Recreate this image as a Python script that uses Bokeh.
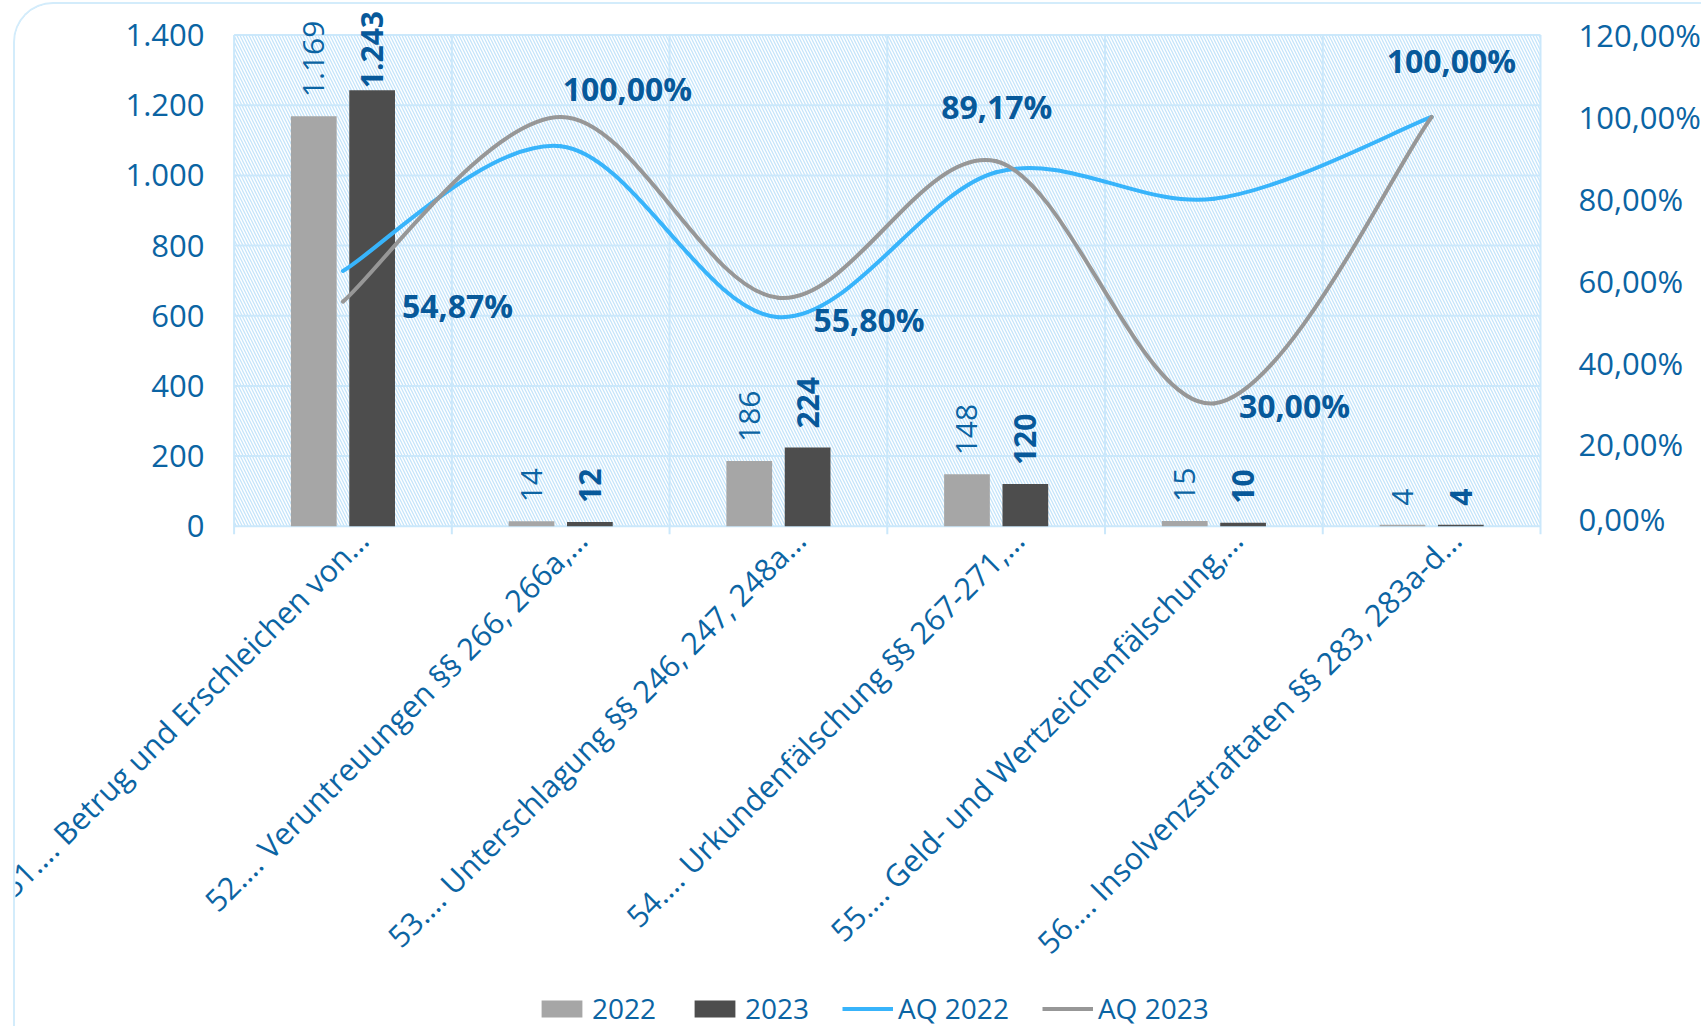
import numpy as np
from bokeh.plotting import figure
from bokeh.models import (Range1d, LinearAxis, FixedTicker, ColumnDataSource,
                          Legend, LegendItem, BoxAnnotation)
from bokeh.core.properties import value
from bokeh.embed import file_html
from bokeh.resources import INLINE

# ---------------- data ----------------
categories = [
    "51…. Betrug und Erschleichen von…",
    "52…. Veruntreuungen §§ 266, 266a,…",
    "53…. Unterschlagung §§ 246, 247, 248a…",
    "54…. Urkundenfälschung §§ 267-271,…",
    "55…. Geld- und Wertzeichenfälschung,…",
    "56…. Insolvenzstraftaten §§ 283, 283a-d…",
]
cases_2022 = [1169, 14, 186, 148, 15, 4]
cases_2023 = [1243, 12, 224, 120, 10, 4]
aq_2022 = [62.36, 92.86, 51.08, 86.49, 80.00, 100.00]
aq_2023 = [54.87, 100.00, 55.80, 89.17, 30.00, 100.00]

left_ticks = [0, 200, 400, 600, 800, 1000, 1200, 1400]
left_tick_labels = ["0", "200", "400", "600", "800", "1.000", "1.200", "1.400"]
right_ticks = [0, 20, 40, 60, 80, 100, 120]
right_tick_labels = ["0,00%", "20,00%", "40,00%", "60,00%", "80,00%", "100,00%", "120,00%"]
legend_labels = ["2022", "2023", "AQ 2022", "AQ 2023"]

# ---------------- style ----------------
FONT = "Open Sans"
TXT = "#0b64a3"
TXT_B = "#07599a"
GRID = "#cbe8fb"
HATCH = "#c4e4fa"
FRAME_BORDER = "#d3ecfb"
C2022 = "#a6a6a6"
C2023 = "#4d4d4d"
C_AQ22 = "#38b4fb"
C_AQ23 = "#979797"

bar_width = 0.21
bar_shift = 0.134
bar_gap_2022 = [19, 19, 19, 19, 19, 19]
bar_gap_2023 = [2, 19, 19, 19, 19, 19]
aq_label_dx = [59, 2, 35, -55, 25, -45]
aq_label_dy = [4, -28, 22, -55, 2, -56]
cat_label_dx = 19
cat_label_drop = 10
tick_len = 8

# layout (page pixels)
X0, Y0 = 15, 4                 # top-left of drawing area (inside the rounded border)
W = 1688
PA_L, PA_R, PA_T, PA_B = 233.6, 1545.0, 34.6, 525.7   # plot area
SPLIT = 541                     # page y where upper figure ends
H1 = SPLIT - Y0
H2 = 1028 - SPLIT
PAD = 3

n = len(categories)
centers = np.arange(n) + 0.5
ppx = (PA_R - PA_L) / n          # px per category
ppy = (PA_B - PA_T) / 1400.0     # px per count unit
pct_per_count = 120.0 / 1400.0

fl = int(round(PA_L - PAD - X0))
fr = int(round(PA_R + PAD - X0))
x_start1 = -((PA_L - X0) - fl) / ppx
x_end1 = x_start1 + (fr - fl) / ppx
y_end1 = (PA_B - Y0) / ppy
y_start1 = -(SPLIT - PA_B) / ppy


def fmt_int(v):
    return f"{v:,}".replace(",", ".")


def fmt_pct(v):
    return f"{v:.2f}".replace(".", ",") + "%"


# ================= upper figure: plot area + value axes =================
p = figure(width=W, height=H1, x_range=Range1d(x_start1, x_end1),
           y_range=Range1d(y_start1, y_end1),
           output_backend="svg", toolbar_location=None,
           min_border_left=fl, min_border_right=W - fr, min_border_top=0, min_border_bottom=0)
p.extra_y_ranges = {"pct": Range1d(y_start1 * pct_per_count, y_end1 * pct_per_count)}
p.outline_line_color = None
p.background_fill_color = "white"
p.border_fill_color = "white"
p.grid.visible = False
p.xaxis.visible = False
p.styles = {"margin-left": f"{X0 - 2}px", "margin-top": f"{Y0 - 2}px",
            "border-top": f"2px solid {FRAME_BORDER}",
            "border-left": f"2px solid {FRAME_BORDER}",
            "border-top-left-radius": "40px", "overflow": "hidden"}

# hatched plot area
p.add_layout(BoxAnnotation(left=0, right=n, bottom=0, top=1400, fill_alpha=0, line_alpha=0,
                           hatch_pattern="\\", hatch_color=HATCH, hatch_scale=6,
                           hatch_weight=1.3, level="underlay"))
# gridlines (horizontal at value ticks, vertical at category boundaries + axis ticks)
p.segment(x0=[0] * len(left_ticks), x1=[n] * len(left_ticks), y0=left_ticks, y1=left_ticks,
          line_color=GRID, line_width=2)
bounds = list(range(n + 1))
p.segment(x0=bounds, x1=bounds, y0=[-tick_len / ppy] * len(bounds), y1=[1400] * len(bounds),
          line_color=GRID, line_width=2)

# bars
src = ColumnDataSource(dict(
    x22=centers - bar_shift, x23=centers + bar_shift,
    c22=cases_2022, c23=cases_2023,
    t22=[fmt_int(v) for v in cases_2022], t23=[fmt_int(v) for v in cases_2023],
    g22=[-g for g in bar_gap_2022], g23=[-g for g in bar_gap_2023],
))
r22 = p.vbar(x="x22", top="c22", width=bar_width, fill_color=C2022, line_color=None, source=src)
r23 = p.vbar(x="x23", top="c23", width=bar_width, fill_color=C2023, line_color=None, source=src)

p.text(x="x22", y="c22", text="t22", angle=np.pi / 2, y_offset="g22",
       text_align="left", text_baseline="middle", text_font=value(FONT),
       text_font_size="30px", text_color=TXT, source=src)
p.text(x="x23", y="c23", text="t23", angle=np.pi / 2, y_offset="g23",
       text_align="left", text_baseline="middle", text_font=value(FONT),
       text_font_size="30px", text_font_style="bold", text_color=TXT_B, source=src)


# smoothed lines (Catmull-Rom through the data points -> cubic Bezier segments)
def bezier_source(xs, ys):
    xs = list(xs)
    ys = list(ys)
    m = len(xs)
    d = dict(x0=[], y0=[], x1=[], y1=[], cx0=[], cy0=[], cx1=[], cy1=[])
    for i in range(m - 1):
        xp, yp = (xs[i - 1], ys[i - 1]) if i > 0 else (xs[i], ys[i])
        xn, yn = (xs[i + 2], ys[i + 2]) if i + 2 < m else (xs[i + 1], ys[i + 1])
        d["x0"].append(xs[i]); d["y0"].append(ys[i])
        d["x1"].append(xs[i + 1]); d["y1"].append(ys[i + 1])
        d["cx0"].append(xs[i] + (xs[i + 1] - xp) / 6)
        d["cy0"].append(ys[i] + (ys[i + 1] - yp) / 6)
        d["cx1"].append(xs[i + 1] - (xn - xs[i]) / 6)
        d["cy1"].append(ys[i + 1] - (yn - ys[i]) / 6)
    return ColumnDataSource(d)


ra22 = p.bezier(x0="x0", y0="y0", x1="x1", y1="y1", cx0="cx0", cy0="cy0", cx1="cx1", cy1="cy1",
                source=bezier_source(centers, aq_2022), line_color=C_AQ22, line_width=4,
                line_cap="round", y_range_name="pct")
ra23 = p.bezier(x0="x0", y0="y0", x1="x1", y1="y1", cx0="cx0", cy0="cy0", cx1="cx1", cy1="cy1",
                source=bezier_source(centers, aq_2023), line_color=C_AQ23, line_width=4,
                line_cap="round", y_range_name="pct")

# AQ 2023 data labels
lsrc = ColumnDataSource(dict(x=centers, y=aq_2023, t=[fmt_pct(v) for v in aq_2023],
                             dx=aq_label_dx, dy=aq_label_dy))
p.text(x="x", y="y", text="t", x_offset="dx", y_offset="dy", y_range_name="pct",
       text_align="left", text_baseline="middle", text_font=value(FONT),
       text_font_size="32px", text_font_style="bold", text_color=TXT_B, source=lsrc)

# value axes
p.yaxis.ticker = FixedTicker(ticks=left_ticks)
p.yaxis.major_label_overrides = {t: l for t, l in zip(left_ticks, left_tick_labels)}
ra = LinearAxis(y_range_name="pct", ticker=FixedTicker(ticks=right_ticks),
                major_label_overrides={t: l for t, l in zip(right_ticks, right_tick_labels)})
p.add_layout(ra, "right")
for ax, so in ((p.yaxis[0], 21), (ra, 29)):
    ax.axis_line_color = None
    ax.major_tick_line_color = None
    ax.minor_tick_line_color = None
    ax.major_label_standoff = so
    ax.major_label_text_font = FONT
    ax.major_label_text_font_size = "31px"
    ax.major_label_text_color = TXT

# ================= lower figure: category labels + legend =================
x_start2 = -(PA_L - X0) / ppx
x_end2 = x_start2 + W / ppx
q = figure(width=W, height=H2, x_range=Range1d(x_start2, x_end2), y_range=Range1d(0, H2),
           output_backend="svg", toolbar_location=None,
           min_border_left=0, min_border_right=0, min_border_top=0, min_border_bottom=0)
q.axis.visible = False
q.grid.visible = False
q.outline_line_color = None
q.background_fill_color = "white"
q.border_fill_color = "white"
q.styles = {"margin-left": f"{X0 - 2}px", "border-left": f"2px solid {FRAME_BORDER}"}

cat_y = H2 - (PA_B + cat_label_drop - SPLIT)
csrc = ColumnDataSource(dict(x=centers, y=[cat_y] * n, t=categories))
q.text(x="x", y="y", text="t", source=csrc, angle=np.pi / 4, x_offset=cat_label_dx,
       text_align="right", text_baseline="middle",
       text_font=value(FONT), text_font_size="30.5px", text_color=TXT)

# legend proxies (same styling as the plotted series, no visible data)
nan = [float("nan")]
l22 = q.vbar(x=nan, top=nan, width=0.2, fill_color=C2022, line_color=None)
l23 = q.vbar(x=nan, top=nan, width=0.2, fill_color=C2023, line_color=None)
la22 = q.line(x=nan, y=nan, line_color=C_AQ22, line_width=4)
la23 = q.line(x=nan, y=nan, line_color=C_AQ23, line_width=4)
legend = Legend(items=[LegendItem(label=legend_labels[0], renderers=[l22]),
                       LegendItem(label=legend_labels[1], renderers=[l23]),
                       LegendItem(label=legend_labels[2], renderers=[la22]),
                       LegendItem(label=legend_labels[3], renderers=[la23])],
                orientation="horizontal", location=(536 - X0, -1),
                label_text_font=FONT, label_text_font_size="28px", label_text_color=TXT,
                glyph_width=51, glyph_height=21, spacing=33, label_standoff=5,
                border_line_color=None, background_fill_alpha=0, padding=0, margin=0)
q.add_layout(legend, "center")

open("out.html", "w").write(file_html([p, q], INLINE))
